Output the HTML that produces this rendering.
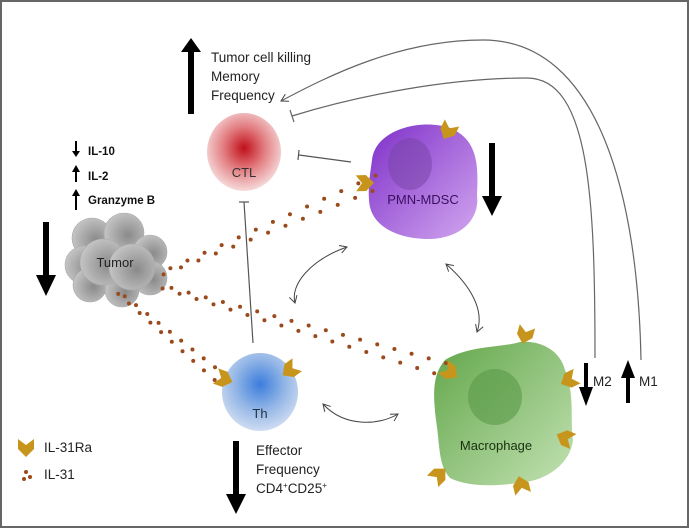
<!DOCTYPE html>
<html><head><meta charset="utf-8"><style>
html,body{margin:0;padding:0;background:#fff}
svg{display:block}
text{font-family:"Liberation Sans",sans-serif}
</style></head><body>
<svg id="s" width="689" height="528" viewBox="0 0 689 528" xmlns="http://www.w3.org/2000/svg">
<defs>
<radialGradient id="gCTL" cx="50%" cy="45%" r="55%"><stop offset="0" stop-color="#c0101a"/><stop offset="0.5" stop-color="#e27c80"/><stop offset="1" stop-color="#f6dada"/></radialGradient>
<radialGradient id="gTh" cx="50%" cy="40%" r="60%"><stop offset="0" stop-color="#3b7ddc"/><stop offset="0.55" stop-color="#93b6e6"/><stop offset="1" stop-color="#cfdcf2"/></radialGradient>
<linearGradient id="gPMN" x1="0" y1="0" x2="1" y2="1"><stop offset="0" stop-color="#7e2fc9"/><stop offset="1" stop-color="#d2a7ef"/></linearGradient>
<linearGradient id="gMac" x1="0" y1="0" x2="1" y2="1"><stop offset="0" stop-color="#62a64a"/><stop offset="1" stop-color="#c3e2b3"/></linearGradient>
<radialGradient id="gT" cx="60%" cy="55%" r="60%"><stop offset="0" stop-color="#8a8a8a"/><stop offset="1" stop-color="#c4c4c4"/></radialGradient>
<marker id="ah" markerWidth="10" markerHeight="10" refX="8" refY="5" orient="auto" markerUnits="userSpaceOnUse"><path d="M1,1 L8,5 L1,9" fill="none" stroke="#444" stroke-width="1"/></marker>
<marker id="ah2" markerWidth="10" markerHeight="10" refX="2" refY="5" orient="auto" markerUnits="userSpaceOnUse"><path d="M9,1 L2,5 L9,9" fill="none" stroke="#444" stroke-width="1"/></marker>
</defs>
<rect x="1" y="1" width="687" height="526" fill="#fff" stroke="#666" stroke-width="2"/>

<path d="M641,360 C638,200 600,40 483,40 C400,40 330,75 281,101" fill="none" stroke="#666" stroke-width="1.2" marker-end="url(#ah)"/>
<path d="M595,358 C595,200 590,78 527,78 C450,78 360,95 292,116" fill="none" stroke="#666" stroke-width="1.2"/>
<line x1="290" y1="110" x2="294" y2="122" stroke="#666" stroke-width="1.2"/>
<line x1="299" y1="155" x2="351" y2="162" stroke="#555" stroke-width="1.2"/>
<line x1="299" y1="150" x2="298" y2="160" stroke="#555" stroke-width="1.2"/>
<line x1="244" y1="202" x2="253" y2="343" stroke="#555" stroke-width="1.2"/>
<line x1="239" y1="202" x2="249" y2="202" stroke="#555" stroke-width="1.2"/>

<path d="M347,247 C310,260 290,285 295,303" fill="none" stroke="#444" stroke-width="1" marker-end="url(#ah)" marker-start="url(#ah2)"/>
<path d="M446,264 C470,285 485,310 477,332" fill="none" stroke="#444" stroke-width="1" marker-end="url(#ah)" marker-start="url(#ah2)"/>
<path d="M323,404 C345,428 380,425 398,414" fill="none" stroke="#444" stroke-width="1" marker-end="url(#ah)" marker-start="url(#ah2)"/>

<g fill="#000">
<rect x="188" y="50" width="6" height="64"/><polygon points="181,52 191,38 201,52"/>
<rect x="489" y="143" width="6" height="55"/><polygon points="482,196 492,216 502,196"/>
<rect x="43" y="222" width="6" height="55"/><polygon points="36,275 46,296 56,275"/>
<rect x="233" y="441" width="6" height="55"/><polygon points="226,494 236,514 246,494"/>
<rect x="584" y="363" width="4" height="26"/><polygon points="579,387 586,406 593,387"/>
<rect x="626" y="376" width="4" height="27"/><polygon points="621,378 628,360 635,378"/>
<rect x="75" y="141" width="2" height="12"/><polygon points="72,151 76,157 80,151"/>
<rect x="75" y="170" width="2" height="12"/><polygon points="72,172 76,165 80,172"/>
<rect x="75" y="194" width="2" height="16"/><polygon points="72,196 76,189 80,196"/>
</g>

<g fill="url(#gT)" stroke="#aaa" stroke-width="0.6">
<circle cx="92" cy="238" r="20"/><circle cx="124" cy="233" r="20"/><circle cx="150" cy="252" r="17"/>
<circle cx="84" cy="265" r="19"/><circle cx="150" cy="278" r="17"/><circle cx="90" cy="285" r="17"/>
<circle cx="122" cy="290" r="17"/><circle cx="103" cy="262" r="23"/><circle cx="132" cy="267" r="23"/>
</g>

<g font-size="13.5" fill="#222">
<text x="211" y="62">Tumor cell killing</text>
<text x="211" y="81">Memory</text>
<text x="211" y="100">Frequency</text>
<text x="256" y="455">Effector</text>
<text x="256" y="474">Frequency</text>
<text x="256" y="493">CD4<tspan font-size="8" dy="-5">+</tspan><tspan dy="5">CD25</tspan><tspan font-size="8" dy="-5">+</tspan></text>
<text x="593" y="386">M2</text>
<text x="639" y="386">M1</text>
<text x="44" y="452">IL-31Ra</text>
<text x="44" y="479">IL-31</text>
</g>
<g font-size="11.5" font-weight="bold" fill="#111">
<text x="88" y="155">IL-10</text>
<text x="88" y="180">IL-2</text>
<text x="88" y="204">Granzyme B</text>
</g>

<ellipse cx="244" cy="152" rx="37" ry="39" fill="url(#gCTL)"/>
<text x="244" y="177" font-size="13" text-anchor="middle" fill="#333">CTL</text>

<path d="M372,160 C375,130 420,118 450,128 C480,140 478,170 477,195 C480,220 460,240 425,239 C395,238 370,225 369,200 C368,185 370,175 372,160Z" fill="url(#gPMN)"/>
<ellipse cx="410" cy="164" rx="22" ry="26" fill="#7a46a8" opacity="0.55"/>
<text x="423" y="204" font-size="13" text-anchor="middle" fill="#3a1060">PMN-MDSC</text>

<text x="115" y="267" font-size="13" text-anchor="middle" fill="#222">Tumor</text>

<ellipse cx="260" cy="392" rx="38" ry="39" fill="url(#gTh)"/>
<text x="260" y="418" font-size="13" text-anchor="middle" fill="#234">Th</text>

<path d="M445,360 C470,345 500,348 520,342 C540,340 560,350 565,370 C575,395 570,420 573,440 C570,465 545,480 525,482 C500,486 470,488 450,478 C438,465 440,445 436,420 C433,395 432,375 445,360Z" fill="url(#gMac)"/>
<ellipse cx="495" cy="397" rx="27" ry="28" fill="#5a9a48" opacity="0.6"/>
<text x="496" y="450" font-size="13" text-anchor="middle" fill="#1a3010">Macrophage</text>

<g id="dots" fill="#9a4a1c"></g>
<g id="recs" fill="#c8951c"></g>
</svg>
<script>
var ns="http://www.w3.org/2000/svg",d=document.getElementById('dots'),r=document.getElementById('recs');
function dot(x,y){var c=document.createElementNS(ns,'circle');c.setAttribute('cx',x);c.setAttribute('cy',y);c.setAttribute('r',2);d.appendChild(c);}
function stream(x1,y1,x2,y2,n,off){var dx=x2-x1,dy=y2-y1,L=Math.hypot(dx,dy),px=-dy/L,py=dx/L;
for(var k=0;k<n;k++){var t=k/(n-1);var s=off*(0.3+t);
dot(x1+dx*t+px*s,y1+dy*t+py*s);dot(x1+dx*(t+0.5/n)-px*s,y1+dy*(t+0.5/n)-py*s);}}
stream(163,273,370,185,13,5);
stream(163,287,436,367,17,5);
stream(119,293,218,376,10,4);
dot(26,472);dot(30,477);dot(24,479);
function rec(x,y,cx,cy){var a=Math.atan2(cy-y,cx-x)*180/Math.PI-90;var p=document.createElementNS(ns,'polygon');p.setAttribute('points','-8,-9 0,-3 8,-9 8,1 0,9 -8,1');p.setAttribute('transform','translate('+x+','+y+') rotate('+a+')');r.appendChild(p);}
rec(448,131,423,181);rec(365,183,423,181);
rec(224,379,260,392);rec(290,370,260,392);
var mx=503,my=412;
rec(450,372,mx,my);rec(525,335,mx,my);rec(569,380,mx,my);rec(565,438,mx,my);rec(439,475,mx,my);rec(521,485,mx,my);
rec(26,448,26,500);
</script>
</body></html>
